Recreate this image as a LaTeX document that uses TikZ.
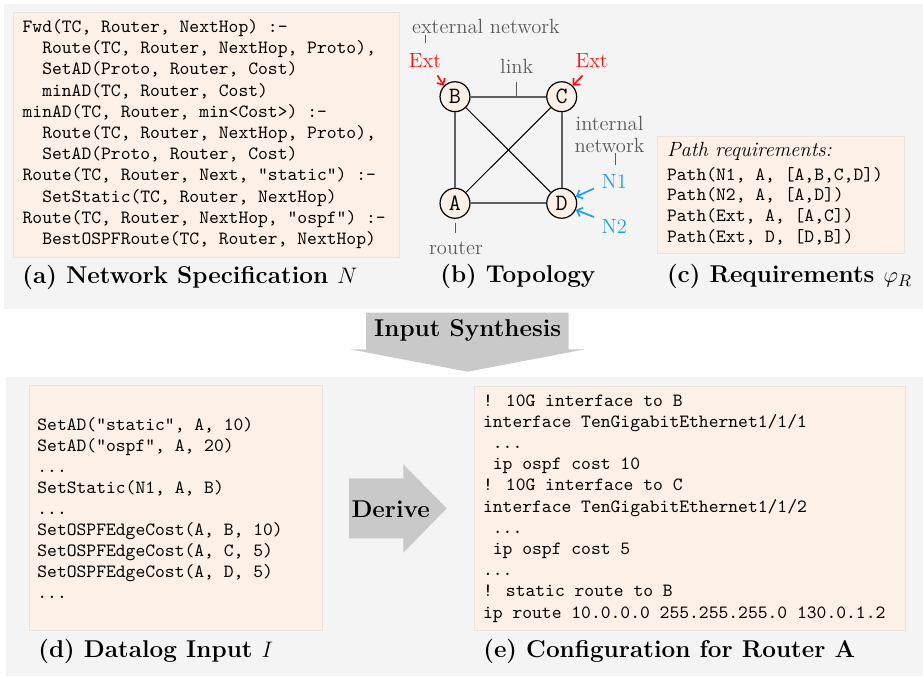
\documentclass[tikz,border=0pt]{standalone}
\usetikzlibrary{arrows.meta}
\definecolor{panelgray}{HTML}{F4F4F4}
\definecolor{boxfill}{HTML}{FDF0E6}
\definecolor{boxline}{HTML}{EAE4DF}
\definecolor{arrowgray}{HTML}{C9C9C9}
\definecolor{labelgray}{HTML}{5A5A5A}
\definecolor{linkgray}{HTML}{606060}
\definecolor{netblue}{HTML}{1BA1E2}
\definecolor{extred}{HTML}{FF1010}
\begin{document}
\begin{tikzpicture}[x=0.535pt,y=-0.535pt,
  panel/.style={fill=panelgray},
  codebox/.style={fill=boxfill,draw=boxline,line width=0.4pt},
  code/.style={anchor=base west,inner sep=0pt,align=left,font=\fontsize{10}{11.34}\selectfont\ttfamily},
  captext/.style={anchor=base west,inner sep=0pt,font=\fontsize{13}{15}\selectfont\bfseries},
  lbl/.style={inner sep=0pt,text=labelgray,font=\fontsize{11}{13}\selectfont},
  router/.style={circle,draw=black,fill=boxfill,line width=0.65pt,minimum size=16pt,inner sep=0pt,font=\fontsize{12.5}{14}\selectfont\ttfamily},
  side/.style={draw=linkgray,line width=0.95pt},
  diag/.style={draw=black,line width=0.5pt},
  tick/.style={draw=labelgray,line width=0.5pt},
  extarrow/.style={draw=extred,line width=0.9pt,-{Straight Barb[length=2.6pt,width=5pt]}},
  netarrow/.style={draw=netblue,line width=0.9pt,-{Straight Barb[length=2.6pt,width=5pt]}},
  bigarrow/.style={fill=arrowgray}
]
\useasboundingbox (0,0) rectangle (923,677);
% panels
\fill[panel] (4,4) rectangle (923,309);
\fill[panel] (6,377) rectangle (923,676);

% (a) network specification  (anchor = baseline of last line)
\draw[codebox] (13,12) rectangle (399,257);
\node[code] (spec) at (22.3,244.5) {Fwd(TC, Router, NextHop) :-\\
\phantom{xx}Route(TC, Router, NextHop, Proto),\\
\phantom{xx}SetAD(Proto, Router, Cost)\\
\phantom{xx}minAD(TC, Router, Cost)\\
minAD(TC, Router, min<Cost>) :-\\
\phantom{xx}Route(TC, Router, NextHop, Proto),\\
\phantom{xx}SetAD(Proto, Router, Cost)\\
Route(TC, Router, Next, "static") :-\\
\phantom{xx}SetStatic(TC, Router, NextHop)\\
Route(TC, Router, NextHop, "ospf") :-\\
\phantom{xx}BestOSPFRoute(TC, Router, NextHop)};
\node[captext] (capa) at (22,284) {(a) Network Specification $N$};

% (b) topology
\node[router] (B) at (455,96.7) {B};
\node[router] (C) at (561.7,96.7) {C};
\node[router] (A) at (455,203.3) {A};
\node[router] (D) at (561.7,203.3) {D};
\draw[side] (B) -- (C);
\draw[side] (C) -- (D);
\draw[side] (D) -- (A);
\draw[side] (A) -- (B);
\draw[diag] (B) -- (D);
\draw[diag] (A) -- (C);

\node[lbl] (extnet) at (486,26.7) {external network};
\coordinate (en1) at (425.7,35);
\coordinate (en2) at (425.7,43.3);
\draw[tick] (en1) -- (en2);
\node[lbl,text=extred] (extB) at (425,60.7) {Ext};
\node[lbl,text=extred] (extC) at (591.7,60.7) {Ext};
\coordinate (eb) at (437.5,75.5);
\coordinate (ec) at (582.5,75.5);
\draw[extarrow] (eb) -- (B.135);
\draw[extarrow] (ec) -- (C.45);

\node[lbl] (link) at (516.7,66.7) {link};
\coordinate (lk1) at (516.7,81.7);
\coordinate (lk2) at (516.7,96.7);
\draw[tick] (lk1) -- (lk2);

\node[lbl,align=center] (intnet) at (609.5,134.5) {internal\\[-1.5pt]network};
\coordinate (in1) at (615,153);
\coordinate (in2) at (615,165);
\draw[tick] (in1) -- (in2);
\node[lbl,text=netblue] (N1) at (614.3,181.7) {N1};
\node[lbl,text=netblue] (N2) at (614.3,226) {N2};
\coordinate (n1s) at (594,188.5);
\coordinate (n2s) at (594,217);
\draw[netarrow] (n1s) -- (D.25);
\draw[netarrow] (n2s) -- (D.-25);

\coordinate (rt1) at (455,222.7);
\coordinate (rt2) at (455,233.3);
\draw[tick] (rt1) -- (rt2);
\node[lbl] (router) at (456,248.3) {router};
\node[captext] (capb) at (440,283) {(b) Topology};

% (c) requirements
\draw[codebox] (657,136) rectangle (904,253);
\node[anchor=base west,inner sep=0pt,font=\fontsize{11}{13}\selectfont\itshape] (preq) at (666.7,156.7) {Path requirements:};
\node[code,font=\fontsize{10}{11.07}\selectfont\ttfamily] (paths) at (666.7,242.1) {Path(N1, A, [A,B,C,D])\\
Path(N2, A, [A,D])\\
Path(Ext, A, [A,C])\\
Path(Ext, D, [D,B])};
\node[captext] (capc) at (666.7,283) {(c) Requirements $\varphi_R$};

% input synthesis arrow
\fill[bigarrow] (366,312.7) -- (568.7,312.7) -- (568.7,349.3) -- (585,349.3)
  -- (467.7,371.7) -- (350,349.3) -- (366,349.3) -- cycle;
\node[inner sep=0pt,font=\fontsize{13}{15}\selectfont\bfseries] (synth) at (467.7,330.7) {Input Synthesis};

% (d) datalog input
\draw[codebox] (29.3,385.7) rectangle (322.3,630);
\node[code,font=\fontsize{10}{11.26}\selectfont\ttfamily] (dl) at (37,598.4) {SetAD("static", A, 10)\\
SetAD("ospf", A, 20)\\
...\\
SetStatic(N1, A, B)\\
...\\
SetOSPFEdgeCost(A, B, 10)\\
SetOSPFEdgeCost(A, C, 5)\\
SetOSPFEdgeCost(A, D, 5)\\
...};
\node[captext] (capd) at (38,657) {(d) Datalog Input $I$};

% derive arrow
\fill[bigarrow] (349,478.3) -- (403.3,478.3) -- (403.3,464.3) -- (446.7,508.3)
  -- (403.3,552.7) -- (403.3,538.3) -- (349,538.3) -- cycle;
\node[inner sep=0pt,font=\fontsize{13}{15}\selectfont\bfseries] (derive) at (390.7,509.3) {Derive};

% (e) configuration
\draw[codebox] (474,386) rectangle (905.7,630);
\node[code] (cfg) at (482.7,618) {! 10G interface to B\\
interface TenGigabitEthernet1/1/1\\
\phantom{x}...\\
\phantom{x}ip ospf cost 10\\
! 10G interface to C\\
interface TenGigabitEthernet1/1/2\\
\phantom{x}...\\
\phantom{x}ip ospf cost 5\\
...\\
! static route to B\\
ip route 10.0.0.0 255.255.255.0 130.0.1.2};
\node[captext] (cape) at (483,657) {(e) Configuration for Router A};
\end{tikzpicture}
\end{document}
